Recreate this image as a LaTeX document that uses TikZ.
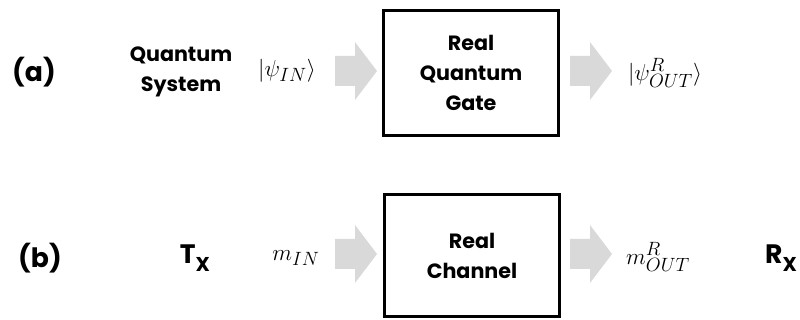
\documentclass[tikz,border=0pt]{standalone}
\usepackage{fontspec}
\setsansfont{Poppins}
\definecolor{arrowgray}{HTML}{D9D9D9}
\newcommand\blockarrow[1]{\fill[arrowgray, shift={(#1)}] (0,-15) -- (20,-15) -- (20,-29) -- (42,0) -- (20,29) -- (20,15) -- (0,15) -- cycle;}
\newcommand\subX{\raisebox{-0.3em}{\fontsize{15}{15}\selectfont X}}
\begin{document}
\begin{tikzpicture}[x=0.75pt,y=-0.75pt,
  lbl/.style={font=\sffamily\bfseries\fontsize{15.5}{22.5}\selectfont, align=center, inner sep=0},
  tag/.style={font=\sffamily\bfseries\fontsize{20}{22}\selectfont, inner sep=0},
  mth/.style={font=\fontsize{19}{20}\selectfont, inner sep=0},
  blk/.style={draw=black, line width=2.25pt, fill=white, inner sep=0}
]
\useasboundingbox (0,0) rectangle (800,320);
% row (a)
\node[tag] (taga) at (34,72) {(a)};
\node[lbl] (qsys) at (181,72) {Quantum\\System};
\node[mth] (psiin) at (287,71) {$|\psi_{IN}\rangle$};
\node[blk, minimum width=131.25pt, minimum height=93.4pt] (gate) at (471,73) {};
\node[lbl] (gatetxt) at (gate.center) {Real\\Quantum\\Gate};
\node[mth] (psiout) at (665,73) {$|\psi^{R}_{OUT}\rangle$};
\blockarrow{335,71}
\blockarrow{570,71}
% row (b)
\node[tag] (tagb) at (40,258) {(b)};
\node[tag] (tx) at (195,258) {T\subX};
\node[mth] (min) at (296,258) {$m_{IN}$};
\node[blk, minimum width=131.25pt, minimum height=91.5pt] (chan) at (472,255.5) {};
\node[lbl] (chantxt) at (chan.center) {Real\\Channel};
\node[mth] (mout) at (658,257) {$m^{R}_{OUT}$};
\node[tag] (rx) at (781,258) {R\subX};
\blockarrow{335,254}
\blockarrow{570,254}
\end{tikzpicture}
\end{document}
